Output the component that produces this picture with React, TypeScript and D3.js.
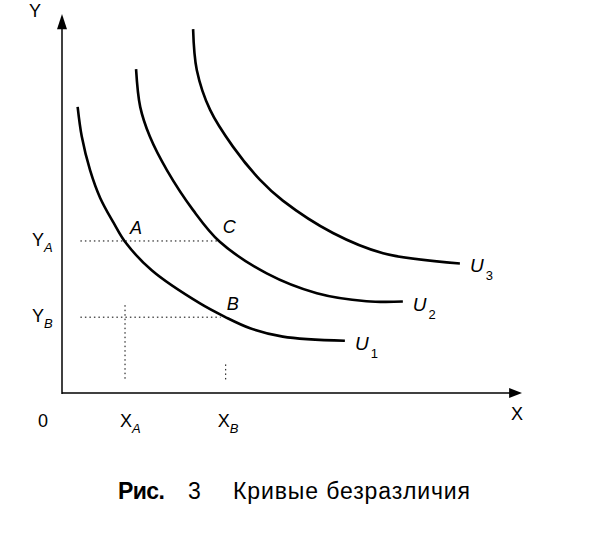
import * as d3 from 'd3'

// Indifference curves (x, y in arbitrary goods units)
const u1 = [
  [0.34, 7.51], [0.43, 6.73], [0.61, 5.85], [0.83, 5.12], [1.12, 4.47],
  [1.37, 3.97], [1.95, 3.22], [3.0, 2.35], [3.54, 2.0], [4.09, 1.7],
  [4.8, 1.48], [6.15, 1.37]
]
const u2 = [
  [1.61, 8.5], [1.7, 7.51], [1.91, 6.73], [2.28, 5.85], [2.85, 4.8],
  [3.43, 3.97], [4.45, 3.14], [5.54, 2.62], [6.62, 2.41], [7.41, 2.4]
]
const u3 = [
  [2.85, 9.55], [2.93, 8.48], [3.22, 7.43], [3.72, 6.46], [4.3, 5.6],
  [4.8, 5.05], [5.89, 4.2], [6.98, 3.67], [8.65, 3.4]
]
const curveNames = ['1', '2', '3']

const xA = 1.37
const xB = 3.45
const yA = 3.99
const yB = 1.99

const sans = 'Liberation Sans, Arial, sans-serif'

export default function App() {
  const x = d3.scaleLinear().domain([0, 10]).range([62, 522])
  const y = d3.scaleLinear().domain([0, 10]).range([393, 12])

  const line = d3.line<number[]>()
    .x(d => x(d[0]))
    .y(d => y(d[1]))
    .curve(d3.curveCatmullRom.alpha(0.5))

  const curves = [u1, u2, u3]

  return (
    <svg width={611} height={541} style={{ position: 'absolute', left: 0, top: 0, background: '#fff' }}>
      {/* axes */}
      <line x1={x(0)} x2={x(0)} y1={y(0) + 1} y2={y(9.6)} stroke="#000" strokeWidth={1.5} />
      <path d={`M${x(0) - 5},${y(9.55)} L${x(0)},${y(9.95)} L${x(0) + 5},${y(9.55)} Z`} fill="#000" />
      <line x1={x(0)} x2={x(9.8)} y1={y(0)} y2={y(0)} stroke="#000" strokeWidth={1.5} />
      <path d={`M${x(9.72)},${y(0) - 5} L${x(10)},${y(0)} L${x(9.72)},${y(0) + 5} Z`} fill="#000" />

      {/* guide lines */}
      <g stroke="#000" strokeWidth={1} strokeDasharray="1.5,3">
        <line x1={x(0.4)} x2={x(3.43)} y1={y(yA)} y2={y(yA)} />
        <line x1={x(0.4)} x2={x(xB)} y1={y(yB)} y2={y(yB)} />
        <line x1={x(xA)} x2={x(xA)} y1={y(yB) - 12} y2={y(0.3)} />
        <line x1={x(xB) + 5} x2={x(xB) + 5} y1={y(0.75)} y2={y(0.3)} />
      </g>

      {/* curves */}
      {curves.map((c, i) => (
        <path key={i} d={line(c) ?? ''} fill="none" stroke="#000" strokeWidth={2.6} />
      ))}
      {curves.map((c, i) => {
        const last = c[c.length - 1]
        return (
          <text key={'l' + i} x={x(last[0]) + 10} y={y(last[1]) + 9}
            fontFamily={sans} fontStyle="italic" fontSize={19}>
            U<tspan fontSize={13} fontStyle="normal" dx={2} dy={8}>{curveNames[i]}</tspan>
          </text>
        )
      })}

      {/* point labels */}
      <g fontFamily={sans} fontStyle="italic" fontSize={18}>
        <text x={x(xA) + 5} y={y(yA) - 7}>A</text>
        <text x={x(3.43) + 3} y={y(yA) - 8}>C</text>
        <text x={x(xB) + 6} y={y(yB) - 7}>B</text>
      </g>

      {/* axis labels */}
      <g fontFamily={sans} fontSize={18}>
        <text x={29} y={17}>Y</text>
        <text x={511} y={420}>X</text>
        <text x={38} y={427}>0</text>
        <text x={32} y={y(yA) + 5}>Y<tspan fontSize={13} fontStyle="italic" dy={6}>A</tspan></text>
        <text x={32} y={y(yB) + 5}>Y<tspan fontSize={13} fontStyle="italic" dy={6}>B</tspan></text>
        <text x={x(xA) - 5} y={427}>X<tspan fontSize={13} fontStyle="italic" dy={6}>A</tspan></text>
        <text x={x(xB) - 3} y={427}>X<tspan fontSize={13} fontStyle="italic" dy={6}>B</tspan></text>
      </g>

      {/* caption */}
      <g fontFamily={sans} fontSize={23}>
        <text x={118} y={499} fontWeight="bold" textLength={47}>Рис.</text>
        <text x={188} y={499}>3</text>
        <text x={233} y={499} textLength={237}>Кривые безразличия</text>
      </g>
    </svg>
  )
}
